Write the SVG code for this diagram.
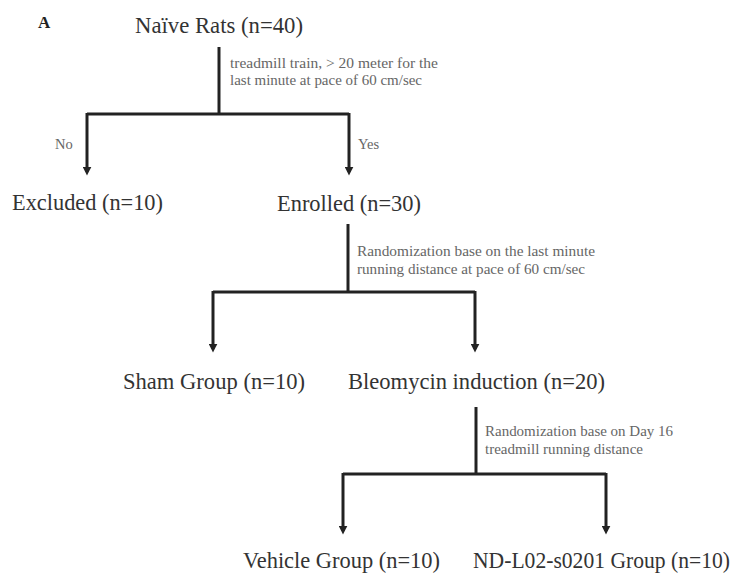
<svg xmlns="http://www.w3.org/2000/svg" width="739" height="581" viewBox="0 0 739 581">
<style>
.t{font-family:"Liberation Serif","Times New Roman",serif;font-size:22.5px;fill:#333}
.s{font-family:"Liberation Serif","Times New Roman",serif;font-size:14.5px;fill:#666}
.c{stroke:#222;stroke-width:3;fill:none}
</style>
<defs>
<marker id="ah" viewBox="0 0 10 10" refX="6" refY="5" markerWidth="3" markerHeight="3" orient="auto" markerUnits="strokeWidth">
<path d="M0,0 L10,5 L0,10 z" fill="#222"/>
</marker>
</defs>
<rect width="739" height="581" fill="#fff"/>
<text x="38" y="28" style="font-family:'Liberation Serif',serif;font-size:17px;font-weight:bold;fill:#222">A</text>
<g id="connectors">
<path class="c" d="M219,47 V114"/>
<path class="c" d="M87,114 H349"/>
<path class="c" d="M87,113 V172" marker-end="url(#ah)"/>
<path class="c" d="M349,113 V172" marker-end="url(#ah)"/>
<path class="c" d="M348,224 V292"/>
<path class="c" d="M213,292 H475"/>
<path class="c" d="M213,291 V349" marker-end="url(#ah)"/>
<path class="c" d="M475,291 V349" marker-end="url(#ah)"/>
<path class="c" d="M476,407 V474"/>
<path class="c" d="M343,474 H606"/>
<path class="c" d="M343,473 V531" marker-end="url(#ah)"/>
<path class="c" d="M606,473 V531" marker-end="url(#ah)"/>
</g>
<g id="labels">
<text class="s" x="230" y="68" textLength="208" lengthAdjust="spacingAndGlyphs">treadmill train, &gt; 20 meter for the</text>
<text class="s" x="230" y="85" textLength="192" lengthAdjust="spacingAndGlyphs">last minute at pace of 60 cm/sec</text>
<text class="s" x="55" y="149">No</text>
<text class="s" x="358" y="149">Yes</text>
<text class="s" x="357" y="256" textLength="238" lengthAdjust="spacingAndGlyphs">Randomization base on the last minute</text>
<text class="s" x="357" y="274" textLength="228" lengthAdjust="spacingAndGlyphs">running distance at pace of 60 cm/sec</text>
<text class="s" x="485" y="436" textLength="188" lengthAdjust="spacingAndGlyphs">Randomization base on Day 16</text>
<text class="s" x="485" y="454" textLength="158" lengthAdjust="spacingAndGlyphs">treadmill running distance</text>
</g>
<g id="naive"><text class="t" x="135" y="33" textLength="168" lengthAdjust="spacingAndGlyphs">Naïve Rats (n=40)</text></g>
<g id="excluded"><text class="t" x="12" y="210" textLength="151" lengthAdjust="spacingAndGlyphs">Excluded (n=10)</text></g>
<g id="enrolled"><text class="t" x="277" y="211" textLength="144" lengthAdjust="spacingAndGlyphs">Enrolled (n=30)</text></g>
<g id="sham"><text class="t" x="123" y="389" textLength="182" lengthAdjust="spacingAndGlyphs">Sham Group (n=10)</text></g>
<g id="bleomycin"><text class="t" x="348" y="389" textLength="257" lengthAdjust="spacingAndGlyphs">Bleomycin induction (n=20)</text></g>
<g id="vehicle"><text class="t" x="243" y="568" textLength="197" lengthAdjust="spacingAndGlyphs">Vehicle Group (n=10)</text></g>
<g id="ndl02"><text class="t" x="473" y="568" textLength="257" lengthAdjust="spacingAndGlyphs">ND-L02-s0201 Group (n=10)</text></g>
</svg>
